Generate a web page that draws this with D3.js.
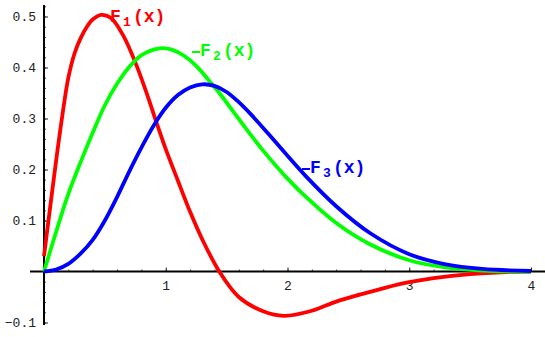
<!DOCTYPE html>
<html>
<head>
<meta charset="utf-8">
<script src="https://cdn.jsdelivr.net/npm/d3@7"></script>
<style>
  body { margin: 0; background: #fff; }
  svg { display: block; }
</style>
</head>
<body>
<div id="viz"></div>
<script>
// values
const xF1 = [0, 0.05, 0.1, 0.15, 0.2, 0.25, 0.3, 0.35, 0.4, 0.47, 0.55, 0.65, 0.75, 0.85, 0.92, 1.0, 1.1, 1.2, 1.3, 1.44, 1.6, 1.8, 1.97, 2.2, 2.4, 2.6, 2.8, 3.0, 3.2, 3.5, 3.8, 4.0];
const yF1 = [0.03, 0.125, 0.218, 0.305, 0.38, 0.427, 0.457, 0.479, 0.494, 0.503, 0.497, 0.463, 0.41, 0.345, 0.295, 0.24, 0.178, 0.117, 0.063, 0, -0.05, -0.078, -0.087, -0.077, -0.059, -0.045, -0.032, -0.021, -0.013, -0.005, -0.001, 0];

const xF2 = [0, 0.1, 0.2, 0.3, 0.4, 0.5, 0.6, 0.7, 0.8, 0.9, 0.97, 1.05, 1.15, 1.25, 1.36, 1.45, 1.55, 1.65, 1.8, 1.97, 2.13, 2.4, 2.68, 3.0, 3.3, 3.6, 4.0];
const yF2 = [0, 0.078, 0.152, 0.214, 0.272, 0.326, 0.368, 0.401, 0.424, 0.435, 0.438, 0.435, 0.423, 0.403, 0.373, 0.347, 0.315, 0.283, 0.237, 0.19, 0.151, 0.095, 0.053, 0.022, 0.008, 0.002, 0];

const xF3 = [0, 0.1, 0.2, 0.3, 0.4, 0.5, 0.6, 0.7, 0.8, 0.9, 1.0, 1.1, 1.2, 1.3, 1.4, 1.5, 1.6, 1.7, 1.85, 2.0, 2.15, 2.4, 2.68, 3.0, 3.3, 3.6, 4.0];
const yF3 = [0, 0.004, 0.015, 0.035, 0.062, 0.1, 0.146, 0.196, 0.243, 0.286, 0.321, 0.346, 0.361, 0.367, 0.364, 0.352, 0.332, 0.308, 0.268, 0.227, 0.187, 0.128, 0.075, 0.034, 0.014, 0.005, 0.001];

const xTicks = [1, 2, 3, 4];
const yTicks = [-0.1, 0.1, 0.2, 0.3, 0.4, 0.5];
const xMinor = d3.range(0, 4.01, 0.2);
const yMinor = d3.range(-0.1, 0.521, 0.02);

const width = 545, height = 337;

const x = d3.scaleLinear().domain([0, 4]).range([44, 531]);
const y = d3.scaleLinear().domain([-0.1, 0.5]).range([322.5, 16.5]);

const svg = d3.select('#viz')
    .append('svg')
    .attr('width', width)
    .attr('height', height);

const mono = '"Liberation Mono", "Courier New", monospace';

// minor ticks
const xMinorAxis = d3.axisBottom(x).tickValues(xMinor).tickSize(-2).tickFormat('');
svg.append('g').attr('transform', `translate(0,${y(0)})`).call(xMinorAxis)
    .call(g => g.select('.domain').remove())
    .call(g => g.selectAll('line').attr('stroke', '#444'));

const yMinorAxis = d3.axisLeft(y).tickValues(yMinor).tickSize(-2).tickFormat('');
svg.append('g').attr('transform', `translate(${x(0)},0)`).call(yMinorAxis)
    .call(g => g.select('.domain').remove())
    .call(g => g.selectAll('line').attr('stroke', '#444'));

// major ticks with labels
const xAxis = d3.axisBottom(x).tickValues(xTicks).tickSize(-4).tickPadding(9).tickFormat(d3.format('d'));
svg.append('g').attr('transform', `translate(0,${y(0)})`).call(xAxis)
    .call(g => g.select('.domain').remove())
    .call(g => g.selectAll('line').attr('stroke', '#222'))
    .call(g => g.selectAll('text').attr('font-family', mono).attr('font-size', 13).attr('fill', '#222'));

const yAxis = d3.axisLeft(y).tickValues(yTicks).tickSize(-4).tickPadding(8).tickFormat(d3.format('.1f'));
svg.append('g').attr('transform', `translate(${x(0)},0)`).call(yAxis)
    .call(g => g.select('.domain').remove())
    .call(g => g.selectAll('line').attr('stroke', '#222'))
    .call(g => g.selectAll('text').attr('font-family', mono).attr('font-size', 13).attr('fill', '#222'));

// axis lines
svg.append('line')
    .attr('x1', 30).attr('x2', width)
    .attr('y1', y(0)).attr('y2', y(0))
    .attr('stroke', '#000').attr('stroke-width', 2);
svg.append('line')
    .attr('x1', x(0)).attr('x2', x(0))
    .attr('y1', 5).attr('y2', 325)
    .attr('stroke', '#000').attr('stroke-width', 2);

// curves
const line = d3.line()
    .x(d => x(d[0]))
    .y(d => y(d[1]))
    .curve(d3.curveCatmullRom.alpha(0.5));

const series = [
    {xs: xF1, ys: yF1, color: '#ff0000'},
    {xs: xF2, ys: yF2, color: '#00ff00'},
    {xs: xF3, ys: yF3, color: '#0000ff'}
];

series.forEach(s => {
    svg.append('path')
        .datum(d3.zip(s.xs, s.ys))
        .attr('fill', 'none')
        .attr('stroke', s.color)
        .attr('stroke-width', 3.8)
        .attr('stroke-linejoin', 'round')
        .attr('d', line);
});

// labels
const labels = [
    {sub: '1', px: 111, py: 22, color: '#ff0000', dash: false},
    {sub: '2', px: 201, py: 56, color: '#00ff00', dash: true},
    {sub: '3', px: 311, py: 173, color: '#0000ff', dash: true}
];

labels.forEach(l => {
    if (l.dash) {
        svg.append('line')
            .attr('x1', l.px - 9).attr('x2', l.px - 1)
            .attr('y1', l.py - 4).attr('y2', l.py - 4)
            .attr('stroke', l.color).attr('stroke-width', 2);
    }
    const t = svg.append('text')
        .attr('font-family', mono)
        .attr('font-weight', 'bold')
        .attr('fill', l.color)
        .attr('y', l.py);
    t.append('tspan').attr('x', l.px - 1).attr('font-size', 18).text('F');
    t.append('tspan').attr('x', l.px + 12).attr('dy', 4).attr('font-size', 13).text(l.sub);
    t.append('tspan').attr('x', l.px + 22).attr('dy', -4).attr('font-size', 18).text('(x)');
});
</script>
</body>
</html>
